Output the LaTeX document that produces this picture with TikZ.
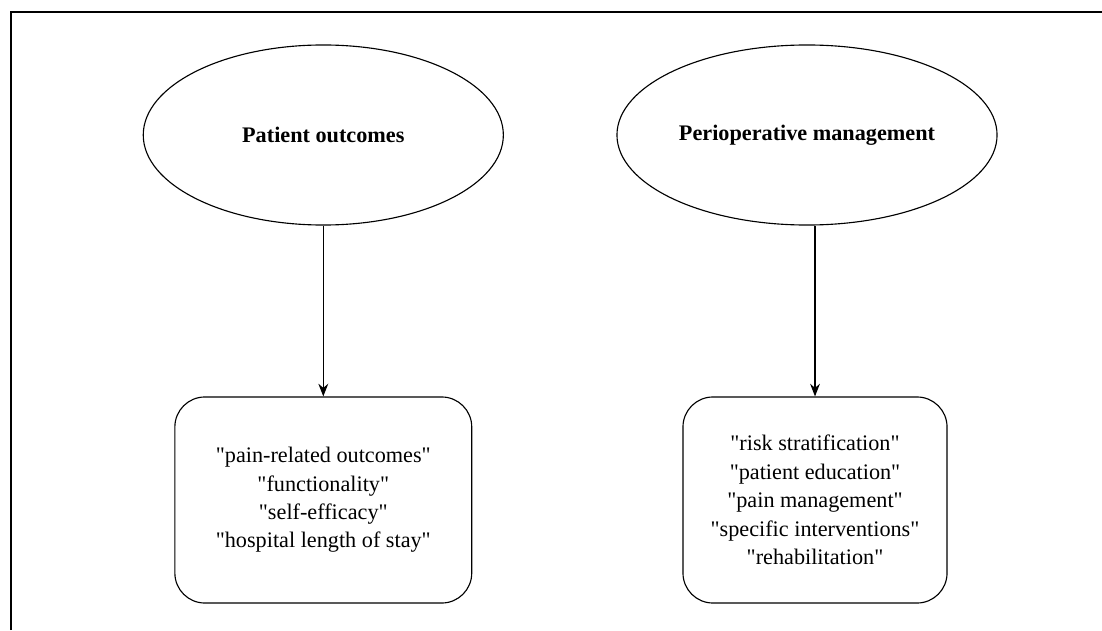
\documentclass[tikz,border=0pt]{standalone}
\usepackage{fontspec}
\setmainfont{Liberation Serif}[Ligatures=TeXOff]
\usetikzlibrary{shapes.geometric, arrows.meta}

% keyword in straight quotes
\newcommand{\kw}[1]{"#1"}

\begin{document}
\begin{tikzpicture}[x=0.025cm, y=-0.025cm,
    theme/.style={ellipse, draw, line width=0.8pt, minimum height=4.5cm, font=\fontsize{15.8}{19}\selectfont\bfseries},
    items/.style={rectangle, rounded corners=0.75cm, draw, line width=0.8pt, minimum height=5.15cm, align=center, font=\fontsize{15.8}{20.2}\selectfont},
    link/.style={line width=0.8pt, -{Stealth[length=9pt, width=7pt]}}]
    \useasboundingbox (0, 0) rectangle (1102, 630);

    % frame
    \draw[line width=1.4pt] (11, 630) -- (11, 12) -- (1102, 12);

    % themes
    \node[theme, minimum width=9cm] (outcomes) at (323.3, 135) {Patient outcomes};
    \node[theme, minimum width=9.5cm] (periop) at (807, 135) {Perioperative management};

    % keywords
    \node[items, minimum width=7.42cm] (outlist) at (323.3, 500) {\kw{pain-related outcomes}\\\kw{functionality}\\\kw{self-efficacy}\\\kw{hospital length of stay}};
    \node[items, minimum width=6.6cm] (periolist) at (815, 500) {\kw{risk stratification}\\\kw{patient education}\\\kw{pain management}\\\kw{specific interventions}\\\kw{rehabilitation}};

    \draw[link] (outcomes) -- (outlist);
    \draw[link] (periop.south -| periolist.north) -- (periolist.north);
\end{tikzpicture}
\end{document}
